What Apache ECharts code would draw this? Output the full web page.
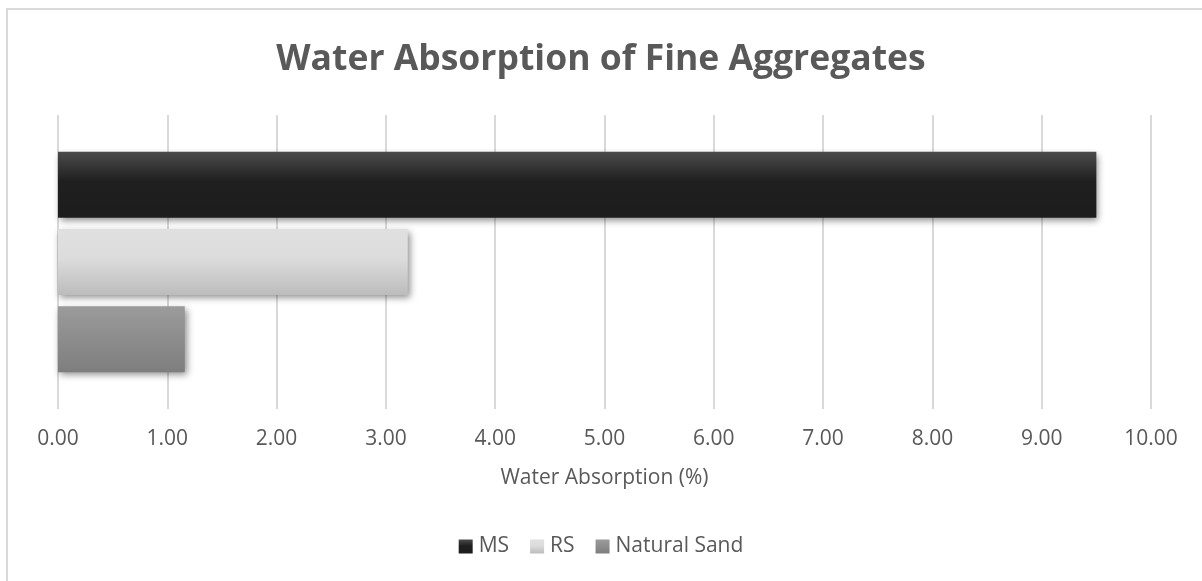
<!DOCTYPE html>
<html>
<head>
<meta charset="utf-8">
<script src="https://cdn.jsdelivr.net/npm/echarts@6/dist/echarts.min.js"></script>
<style>
  html, body { margin: 0; padding: 0; background: #ffffff; }
  #chart { width: 1202px; height: 581px; }
</style>
</head>
<body>
<div id="chart"></div>
<script>
// Water absorption (%) of the three fine aggregates
const categories = ['Water Absorption'];
const seriesNames = ['MS', 'RS', 'Natural Sand'];
const msValues = [9.50];
const rsValues = [3.20];
const naturalSandValues = [1.16];
const xTicks = { min: 0, max: 10, interval: 1 };

const textColor = '#595959';
const font = 'Open Sans';

function vGradient(stops) {
  return new echarts.graphic.LinearGradient(0, 0, 0, 1,
    stops.map(([offset, color]) => ({ offset, color })));
}

const fills = [
  vGradient([[0, '#4b4b4b'], [0.45, '#1f1f1f'], [1, '#1d1d1d']]),
  vGradient([[0, '#e0e0e0'], [0.45, '#dcdcdc'], [1, '#bcbcbc']]),
  vGradient([[0, '#9b9b9b'], [1, '#7e7e7e']])
];

function barSeries(name, data, fill) {
  return {
    name,
    type: 'bar',
    data,
    barGap: '17%',
    barCategoryGap: '25%',
    itemStyle: {
      color: fill,
      shadowColor: 'rgba(0,0,0,0.45)',
      shadowBlur: 7,
      shadowOffsetX: 2,
      shadowOffsetY: 3
    }
  };
}

const chart = echarts.init(document.getElementById('chart'), null, { renderer: 'canvas' });
chart.setOption({
  backgroundColor: '#ffffff',
  animation: false,
  graphic: [{
    type: 'rect',
    shape: { x: 7, y: 9, width: 1400, height: 800 },
    style: { fill: 'none', stroke: '#d9d9d9', lineWidth: 2 },
    silent: true
  }],
  title: {
    text: 'Water Absorption of Fine Aggregates',
    left: 'center',
    top: 37,
    textStyle: { fontFamily: font, fontWeight: 'bold', fontSize: 35.5, color: textColor }
  },
  legend: {
    data: seriesNames,
    bottom: 19,
    left: 'center',
    icon: 'rect',
    itemWidth: 14,
    itemHeight: 14,
    itemGap: 21,
    textStyle: { fontFamily: font, fontSize: 21, color: textColor, padding: [0, 0, 0, 1] }
  },
  grid: { left: 58, right: 51, top: 115, bottom: 172, containLabel: false },
  xAxis: {
    type: 'value',
    min: xTicks.min,
    max: xTicks.max,
    interval: xTicks.interval,
    name: 'Water Absorption (%)',
    nameLocation: 'middle',
    nameGap: 59,
    nameTextStyle: { fontFamily: font, fontSize: 21, color: textColor },
    axisLine: { show: false },
    axisTick: { show: false },
    axisLabel: {
      fontFamily: font, fontSize: 21, color: textColor, margin: 20,
      formatter: v => v.toFixed(2)
    },
    splitLine: { show: true, lineStyle: { color: '#d9d9d9', width: 2 } }
  },
  yAxis: {
    type: 'category',
    data: categories,
    inverse: true,
    axisLine: { show: false },
    axisTick: { show: false },
    axisLabel: { show: false },
    splitLine: { show: false }
  },
  series: [
    barSeries(seriesNames[0], msValues, fills[0]),
    barSeries(seriesNames[1], rsValues, fills[1]),
    barSeries(seriesNames[2], naturalSandValues, fills[2])
  ]
});
</script>
</body>
</html>
